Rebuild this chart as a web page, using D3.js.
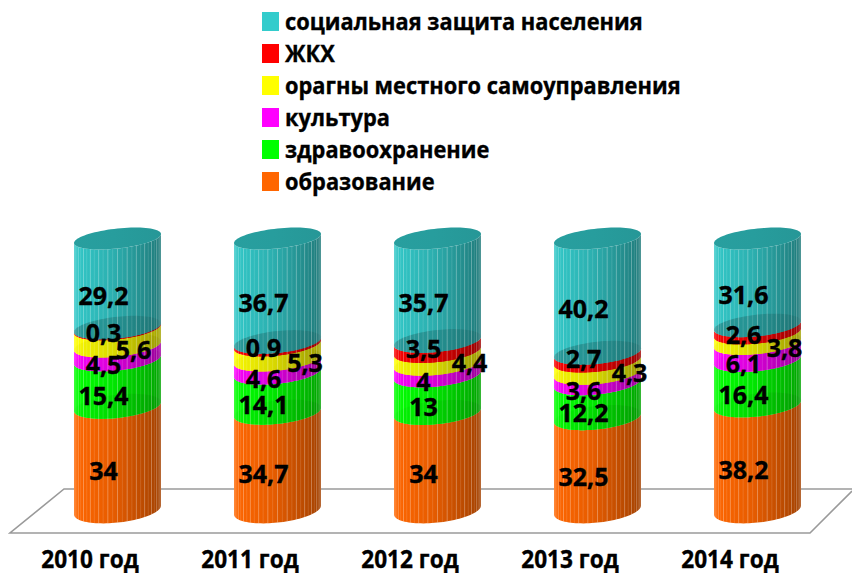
<!DOCTYPE html>
<html><head><meta charset="utf-8">
<script src="https://cdn.jsdelivr.net/npm/d3@7"></script>
<style>html,body{margin:0;padding:0;background:#fff}svg{display:block}text{font-family:"Open Sans","Noto Sans",sans-serif;font-weight:700;fill:#000;stroke:#000;stroke-width:.35px}</style>
</head><body><svg id="c" width="852" height="573"></svg>
<script>
const years=["2010 год","2011 год","2012 год","2013 год","2014 год"];
const seriesNames=["образование","здравоохранение","культура","орагны местного самоуправления","ЖКХ","социальная защита населения"];
const seriesColors=["#FF6600","#00FF00","#FF00FF","#FFFF00","#FF0000","#33CCCC"];
const obrazovanie=[34,34.7,34,32.5,38.2];
const zdravoohranenie=[15.4,14.1,13,12.2,16.4];
const kultura=[4.5,4.6,4,3.6,6.1];
const organy=[5.6,5.3,4.4,4.3,3.8];
const zhkh=[0.3,0.9,3.5,2.7,2.6];
const soczashchita=[29.2,36.7,35.7,40.2,31.6];
const seriesValues=[obrazovanie,zdravoohranenie,kultura,organy,zhkh,soczashchita];

const svg=d3.select("#c"),defs=svg.append("defs");
const rows=years.map((y,i)=>{const r={year:y};seriesNames.forEach((s,k)=>r[s]=seriesValues[k][i]);return r;});
const stacked=d3.stack().keys(seriesNames).offset(d3.stackOffsetExpand)(rows);

const x=d3.scalePoint().domain(years).range([117.5,757.5]);
const y=d3.scaleLinear().domain([0,1]).range([510,238.5]);
const ryAt=d3.scaleLinear().domain([238.5,510]).range([10,12.6]);
const rx=43.5,tilt=4.5;
const pt=(cx,cy,t)=>[cx+rx*Math.cos(t),cy+ryAt(cy)*Math.sin(t)-tilt*Math.cos(t)];
const arc=(cx,cy,a,b,n=48)=>d3.range(n+1).map(i=>pt(cx,cy,a+(b-a)*i/n));
const line=d3.line();
const ellipse=(cx,cy)=>line(arc(cx,cy,0,2*Math.PI,80))+"Z";
const body=(cx,yb,yt)=>line(arc(cx,yb,Math.PI,0).concat(arc(cx,yt,0,Math.PI)))+"Z";

// floor
svg.append("path").attr("d","M852,489H64L10,533H810L852,491").attr("fill","none").attr("stroke","#9a9a9a").attr("stroke-width",1.6);

function grad(id,c,k0,k1,k2){
  const g=defs.append("linearGradient").attr("id",id);
  const mix=k=>d3.interpolateRgb("#000",c)(k);
  g.append("stop").attr("offset",0).attr("stop-color",mix(k0));
  g.append("stop").attr("offset",.45).attr("stop-color",mix(k1));
  g.append("stop").attr("offset",1).attr("stop-color",mix(k2));
}
seriesColors.forEach((c,i)=>{
  if(i===5) grad("b"+i,c,.98,.86,.6); else grad("b"+i,c,1,.9,.64);
  if(i===5) grad("l"+i,c,.74,.72,.56); else grad("l"+i,c,.97,.85,.6);
});
grad("top",seriesColors[5],.78,.77,.74);

const plot=svg.append("g");
years.forEach((yr,j)=>{
  const cx=x(yr),g=plot.append("g");
  stacked.forEach((s,i)=>{
    const yb=y(s[j][0]),yt=y(s[j][1]);
    g.append("path").attr("d",body(cx,yb,yt)).attr("fill",`url(#b${i})`);
    if(i>0) g.append("path").attr("d",ellipse(cx,yb)).attr("fill",`url(#l${i})`);
  });
  // facet ribs, drawn on the side wall only
  const clip="cl"+j;
  defs.append("clipPath").attr("id",clip).append("path").attr("d",body(cx,y(0),y(1)));
  const ribs=g.append("g").attr("clip-path",`url(#${clip})`);
  d3.range(1,28).forEach(k=>{
    const xx=cx+rx*Math.cos(Math.PI*k/28);
    ribs.append("line").attr("x1",xx).attr("x2",xx).attr("y1",y(1)-20).attr("y2",y(0)+20)
      .attr("stroke","#fff").attr("stroke-opacity",k%2==0?.3:.13).attr("stroke-width",1);
  });
  g.append("path").attr("d",ellipse(cx,y(1))).attr("fill","url(#top)");
});

// data labels: horizontal and vertical nudges from the slice centre
const nudgeX=[[-14,-14,-14,-14,-14],[-14,-14,-14,-14,-14],[-14,-14,-14,-14,-14],[16,27.5,32,32,27],[-14,-14,-14,-14,-14],[-14,-14,-14,-14,-14]];
const nudgeY=[[13,13,13,13,13],[13,13,13,13,13],[13,13,13,13,13],[13,11,6,6,10],[5,5,3,2,6],[13,13,13,13,13]];
const labels=svg.append("g").attr("font-size",25).attr("text-anchor","middle");
stacked.forEach((s,i)=>s.forEach((d,j)=>{
  labels.append("text").attr("x",x(years[j])+nudgeX[i][j]).attr("y",(y(d[0])+y(d[1]))/2+nudgeY[i][j]).attr("dy",".36em")
    .text(String(seriesValues[i][j]).replace(".",","));
}));

const squeeze=(sel,f)=>sel.each(function(){
  const w=this.getComputedTextLength();
  d3.select(this).attr("textLength",w*f).attr("lengthAdjust","spacingAndGlyphs");
});

// category labels
svg.append("g").attr("font-size",25).attr("text-anchor","middle").selectAll("text").data(years).join("text")
  .attr("x",d=>x(d)-27.5).attr("y",568).text(d=>d).call(squeeze,.905);

// legend
const order=seriesNames.map((n,i)=>i).reverse();
const ly=d3.scalePoint().domain(order).range([12,172]);
const legend=svg.append("g").selectAll("g").data(order).join("g");
legend.append("rect").attr("x",262).attr("y",d=>ly(d)).attr("width",17).attr("height",19).attr("fill",d=>seriesColors[d]);
legend.append("text").attr("x",285).attr("y",d=>ly(d)+18).attr("font-size",22.5).text(d=>seriesNames[d]).call(squeeze,.97);
</script></body></html>
